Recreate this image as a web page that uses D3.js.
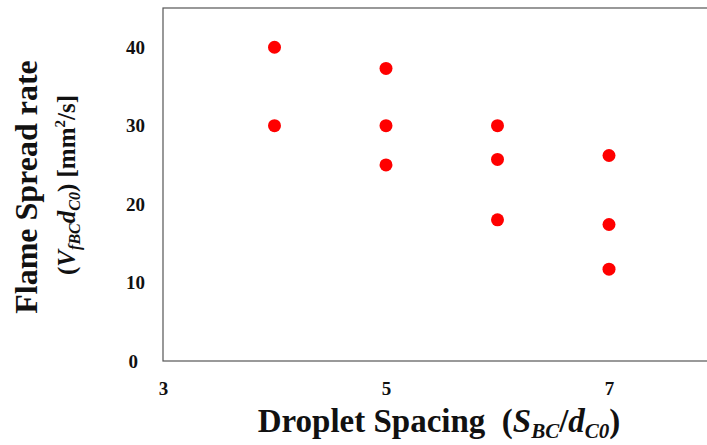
<!DOCTYPE html>
<html>
<head>
<meta charset="utf-8">
<script src="https://cdn.jsdelivr.net/npm/d3@7"></script>
<style>
  body { margin: 0; background: #fff; }
  text { font-family: "Liberation Serif", "Times New Roman", serif; font-weight: bold; fill: #111; }
</style>
</head>
<body>
<div id="chart"></div>
<script>
// droplet spacing vs flame spread rate
var spacing = [4, 4, 5, 5, 5, 6, 6, 6, 7, 7, 7];
var rate    = [40, 30, 37.3, 30, 25, 30, 25.7, 18, 26.2, 17.4, 11.7];
var xTicks = [3, 5, 7];
var yTicks = [0, 10, 20, 30, 40];

var width = 707, height = 445;
var margin = {left: 163, top: 8, bottom: 84};

var svg = d3.select("#chart").append("svg")
    .attr("width", width)
    .attr("height", height);

var x = d3.scaleLinear().domain([3, 8]).range([margin.left, margin.left + 5 * 111.5]);
var y = d3.scaleLinear().domain([0, 45]).range([height - margin.bottom, margin.top]);

// plot frame (right side runs off the picture)
svg.append("rect")
    .attr("x", x(3))
    .attr("y", y(45))
    .attr("width", x(8) - x(3))
    .attr("height", y(0) - y(45))
    .attr("fill", "none")
    .attr("stroke", "#555")
    .attr("stroke-width", 1.2);

var xAxis = svg.append("g")
    .attr("transform", "translate(0," + y(0) + ")")
    .call(d3.axisBottom(x).tickValues(xTicks).tickFormat(d3.format("d")).tickSize(0).tickPadding(21));
xAxis.select(".domain").remove();
xAxis.attr("font-size", 19).attr("font-family", null);

var yAxis = svg.append("g")
    .attr("transform", "translate(" + (x(3) - 18) + ",0)")
    .call(d3.axisLeft(y).tickValues(yTicks).tickFormat(d3.format("d")).tickSize(0).tickPadding(0));
yAxis.select(".domain").remove();
yAxis.attr("font-size", 19).attr("font-family", null);
yAxis.selectAll(".tick").filter(function(d) { return d === 0; })
    .select("text").attr("dx", -7);

svg.selectAll("circle.pt")
    .data(spacing)
    .enter().append("circle")
    .attr("class", "pt")
    .attr("cx", function(d) { return x(d); })
    .attr("cy", function(d, i) { return y(rate[i]); })
    .attr("r", 6.5)
    .attr("fill", "#ff0000");

// x label
var xl = svg.append("text")
    .attr("x", 439)
    .attr("y", 432)
    .attr("text-anchor", "middle")
    .attr("xml:space", "preserve")
    .style("font-size", "33px");
xl.append("tspan").text("Droplet Spacing  (");
xl.append("tspan").style("font-style", "italic").text("S");
xl.append("tspan").style("font-style", "italic").style("font-size", "21px").attr("dy", 6).text("BC");
xl.append("tspan").attr("dy", -6).text("/");
xl.append("tspan").style("font-style", "italic").text("d");
xl.append("tspan").style("font-style", "italic").style("font-size", "21px").attr("dy", 6).text("C0");
xl.append("tspan").attr("dy", -6).text(")");

// y label, two lines
svg.append("text")
    .attr("transform", "translate(37,187) rotate(-90)")
    .attr("text-anchor", "middle")
    .style("font-size", "32px")
    .text("Flame Spread rate");

var yl = svg.append("text")
    .attr("transform", "translate(75,185) rotate(-90)")
    .attr("text-anchor", "middle")
    .style("font-size", "25px");
yl.append("tspan").text("(");
yl.append("tspan").style("font-style", "italic").text("V");
yl.append("tspan").style("font-style", "italic").style("font-size", "16px").attr("dy", 5).text("fBC");
yl.append("tspan").style("font-style", "italic").attr("dy", -5).text("d");
yl.append("tspan").style("font-style", "italic").style("font-size", "16px").attr("dy", 5).text("C0");
yl.append("tspan").attr("dy", -5).text(") [mm");
yl.append("tspan").style("font-size", "15px").attr("dy", -10).text("2");
yl.append("tspan").attr("dy", 10).text("/s]");
</script>
</body>
</html>
